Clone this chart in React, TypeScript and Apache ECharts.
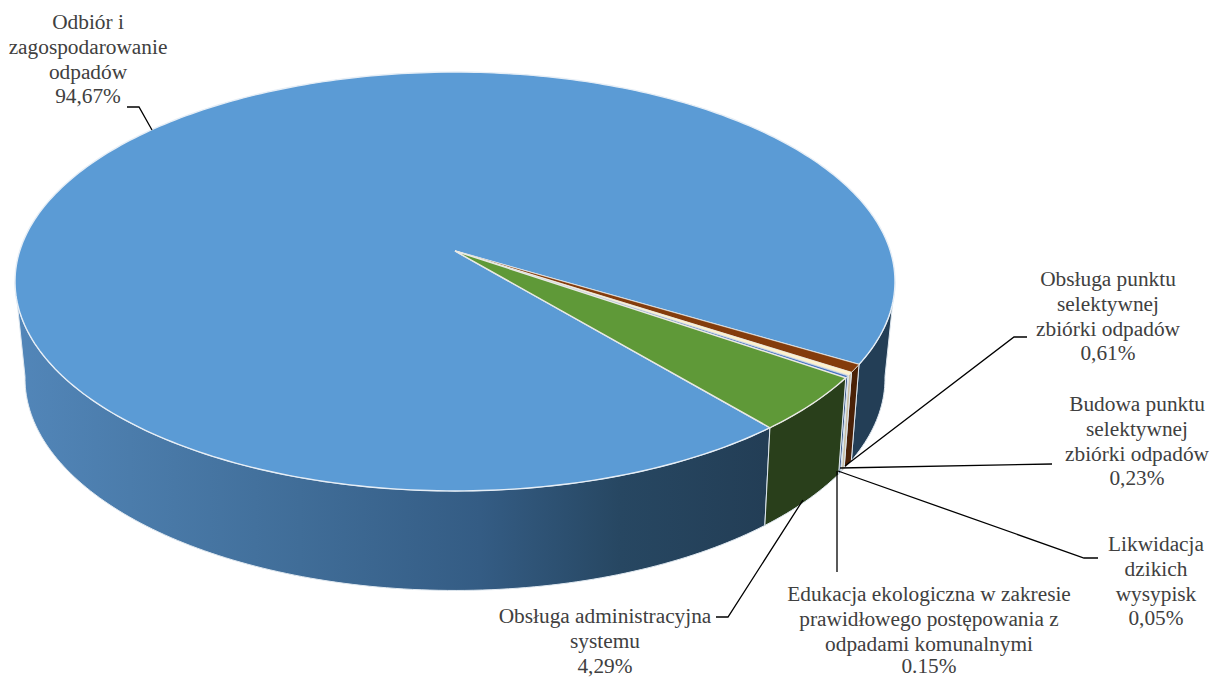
import React, { useEffect, useRef } from "react";
import * as echarts from "echarts";

const categories = [
  "Odbiór i\nzagospodarowanie\nodpadów",
  "Obsługa punktu\nselektywnej\nzbiórki odpadów",
  "Budowa punktu\nselektywnej\nzbiórki odpadów",
  "Likwidacja\ndzikich\nwysypisk",
  "Edukacja ekologiczna w zakresie\nprawidłowego postępowania z\nodpadami komunalnymi",
  "Obsługa administracyjna\nsystemu",
];
const values = [94.67, 0.61, 0.23, 0.05, 0.15, 4.29];
const valueLabels = ["94,67%", "0,61%", "0,23%", "0,05%", "0.15%", "4,29%"];
const topColors = ["#5b9bd5", "#843c0c", "#fff2cc", "#b4bcc8", "#4472c4", "#5f9938"];
const wallColors = ["#233e56", "#4a2107", "#c9bfa5", "#8d9196", "#2b4a80", "#293f1b"];
const wallStops: [number, string][] = [
  [15, "#5286b9"], [130, "#4b7cab"], [300, "#406d98"], [480, "#345c84"],
  [620, "#274762"], [765, "#233e56"], [893, "#233e56"],
];
const labelBlocks = [
  { x: 88, y: 10 }, { x: 1108, y: 267 }, { x: 1137, y: 392 },
  { x: 1156, y: 532 }, { x: 929, y: 582 }, { x: 605, y: 604 },
];
const leaders = [
  [[127, 107], [139, 107], [152, 130]],
  [[1027, 337], [1014, 337], [845, 466]],
  [[1052, 464], [840, 468]],
  [[1098, 558], [1084, 558], [838, 471]],
  [[837, 572], [837, 471]],
  [[716, 617], [728, 617], [803, 500]],
];

const START_DEG = 50;
const CX = 455;
const topPlane = { y0: 251, a: 435.3, b: 205, k: 0.1456 };
const bottomPlane = { y0: 345.6, a: 424.8, b: 206.9, k: 0.155 };
const total = values.reduce((s, v) => s + v, 0);
const FONT = '21.33px "Liberation Serif"';
const LINE = 24.7;

function project(plane: typeof topPlane, deg: number): number[] {
  const t = (deg * Math.PI) / 180;
  const d = 1 - plane.k * Math.sin(t);
  return [CX + (plane.a * Math.cos(t)) / d, plane.y0 + (plane.b * Math.sin(t)) / d];
}

function sliceRange(i: number): [number, number] {
  let before = 0;
  for (let j = 0; j < i; j++) before += values[j];
  return [START_DEG + (before / total) * 360, START_DEG + ((before + values[i]) / total) * 360];
}

function arc(plane: typeof topPlane, a: number, b: number): number[][] {
  const n = Math.max(2, Math.ceil(Math.abs(b - a)));
  const pts: number[][] = [];
  for (let s = 0; s <= n; s++) pts.push(project(plane, a + ((b - a) * s) / n));
  return pts;
}

const VIS_A = 8.4;
const VIS_B = 171.6;
const EDGE = "#dfe8f0";

const wallFill = (i: number) =>
  i === 0
    ? new echarts.graphic.LinearGradient(
        15, 0, 893, 0,
        wallStops.map(([x, color]) => ({ offset: (x - 15) / (893 - 15), color })),
        true
      )
    : wallColors[i];

function renderWall(params: any) {
  const i = params.dataIndex;
  const [a, b] = sliceRange(i);
  const children: any[] = [];
  for (const shift of [0, -360]) {
    const s = Math.max(a + shift, VIS_A);
    const e = Math.min(b + shift, VIS_B);
    if (e <= s) continue;
    const points = [...arc(topPlane, s, e), ...arc(bottomPlane, s, e).reverse()];
    children.push({
      type: "polygon",
      shape: { points },
      style: { fill: wallFill(i), stroke: EDGE, lineWidth: 1 },
    });
  }
  return { type: "group", children };
}

function renderTop(params: any) {
  const i = params.dataIndex;
  const [a, b] = sliceRange(i);
  const points = [[CX, topPlane.y0], ...arc(topPlane, a, b)];
  return {
    type: "polygon",
    shape: { points },
    style: { fill: topColors[i], stroke: i === 0 ? "#e6eef6" : "#e9e9e4", lineWidth: i === 0 || i === 5 ? 1.4 : 0.6 },
  };
}

const textEl = (x: number, y: number, text: string, lineHeight: number) => ({
  type: "text",
  z: 11,
  silent: true,
  x,
  y,
  style: { text, font: FONT, lineHeight, fill: "#404040", align: "center", verticalAlign: "top" },
});

export default function App() {
  const ref = useRef<HTMLDivElement>(null);
  useEffect(() => {
    if (!ref.current) return;
    const chart = echarts.init(ref.current, undefined, { renderer: "svg" });
    const seriesData = values.map((v) => [v]);
    chart.setOption({
      animation: false,
      backgroundColor: "#ffffff",
      series: [
        { type: "custom", coordinateSystem: "none", silent: true, clip: false, z: 1, data: seriesData, renderItem: renderWall },
        { type: "custom", coordinateSystem: "none", silent: true, clip: false, z: 2, data: seriesData, renderItem: renderTop },
      ],
      graphic: [
        ...leaders.map((pts) => ({
          type: "polyline",
          z: 10,
          silent: true,
          shape: { points: pts },
          style: { stroke: "#000000", lineWidth: 1.3, fill: "none" },
        })),
        ...categories.flatMap((c, i) =>
          i === 4
            ? [
                textEl(labelBlocks[i].x, labelBlocks[i].y, c, LINE),
                textEl(labelBlocks[i].x, 655, valueLabels[i], 21.33),
              ]
            : [textEl(labelBlocks[i].x, labelBlocks[i].y, `${c}\n${valueLabels[i]}`, LINE)]
        ),
      ],
    });
    return () => chart.dispose();
  }, []);
  return <div ref={ref} style={{ position: "fixed", left: 0, top: 0, width: 1212, height: 677 }} />;
}
